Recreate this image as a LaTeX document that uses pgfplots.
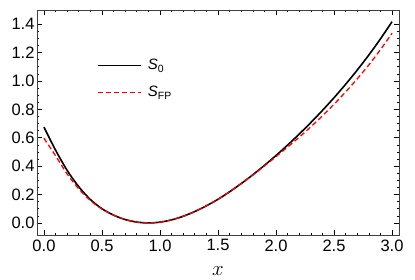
\documentclass[border=0pt]{standalone}
\usepackage{fontspec}
\setmainfont{Liberation Sans}
\usepackage{pgfplots}
\pgfplotsset{compat=1.18}
\begin{document}
\begin{tikzpicture}
\begin{axis}[
  at={(0pt,0pt)}, anchor=south west,
  scale only axis, width=362pt, height=225pt,
  xmin=-0.06, xmax=3.06, ymin=-0.085, ymax=1.5,
  xtick={0,0.5,1,1.5,2,2.5,3},
  ytick={0,0.2,0.4,0.6,0.8,1.0,1.2,1.4},
  minor x tick num=4, minor y tick num=3,
  tick align=inside, major tick length=5pt, minor tick length=2.5pt,
  tick style={black, line width=0.6pt},
  axis line style={black!75, line width=0.8pt},
  /pgf/number format/.cd, fixed, fixed zerofill, precision=1, assume math mode=true,
  /pgfplots/.cd,
  tick label style={font=\fontsize{16.5}{17}\selectfont},
  yticklabel style={xshift=1pt},
  xticklabel style={yshift=-1pt},
  xlabel={$x$},
  xlabel style={font=\fontsize{20}{20}\selectfont, yshift=-8pt},
  legend style={draw=none, fill=none, at={(0.166,0.79)}, anchor=north west,
    row sep=11pt, inner sep=0pt, font=\fontsize{15}{15}\selectfont},
  legend cell align=left,
]
\addplot[black, line width=1.6pt, smooth,
  legend image code/.code={\draw[black, line width=1.8pt] (0pt,0pt) -- (43pt,0pt); \path (47pt,0pt);}] coordinates {
(0,0.675) (0.1,0.513) (0.2,0.37) (0.3,0.255) (0.4,0.165) (0.5,0.10)
(0.6,0.055) (0.7,0.024) (0.8,0.006) (0.9,0) (1.0,0.0056) (1.1,0.0217)
(1.2,0.047) (1.3,0.0803) (1.4,0.1207) (1.5,0.1665) (1.6,0.2195) (1.7,0.2773)
(1.8,0.3391) (1.9,0.4052) (2.0,0.475) (2.1,0.5486) (2.2,0.6259) (2.3,0.7071)
(2.4,0.7924) (2.5,0.8821) (2.6,0.9767) (2.7,1.0769) (2.8,1.1831) (2.9,1.2964) (3.0,1.418)
};
\addlegendentry{\textit{S}\raisebox{-0.3ex}{\fontsize{10.5}{10.5}\selectfont 0}}
\addplot[red, line width=1.3pt, dash pattern=on 5pt off 3pt, smooth,
  legend image code/.code={\draw[red, line width=1.4pt, dash pattern=on 5pt off 3pt] (0pt,0pt) -- (43pt,0pt); \path (47pt,0pt);}] coordinates {
(0,0.597) (0.1,0.473) (0.2,0.345) (0.3,0.240) (0.4,0.158) (0.5,0.098)
(0.6,0.055) (0.7,0.024) (0.8,0.006) (0.9,0) (1.0,0.0056) (1.1,0.0217)
(1.2,0.047) (1.3,0.0803) (1.4,0.1207) (1.5,0.1665) (1.6,0.2195) (1.7,0.2773)
(1.8,0.3371) (1.9,0.4012) (2.0,0.467) (2.1,0.5346) (2.2,0.6039) (2.3,0.6771)
(2.4,0.7544) (2.5,0.8361) (2.6,0.9227) (2.7,1.0149) (2.8,1.1131) (2.9,1.2204) (3.0,1.336)
};
\addlegendentry{\textit{S}\raisebox{-0.3ex}{\fontsize{10.5}{10.5}\selectfont FP}}
\end{axis}
\pgfresetboundingbox
\path (-37pt,-44pt) rectangle (378pt,235pt);
\end{tikzpicture}
\end{document}
